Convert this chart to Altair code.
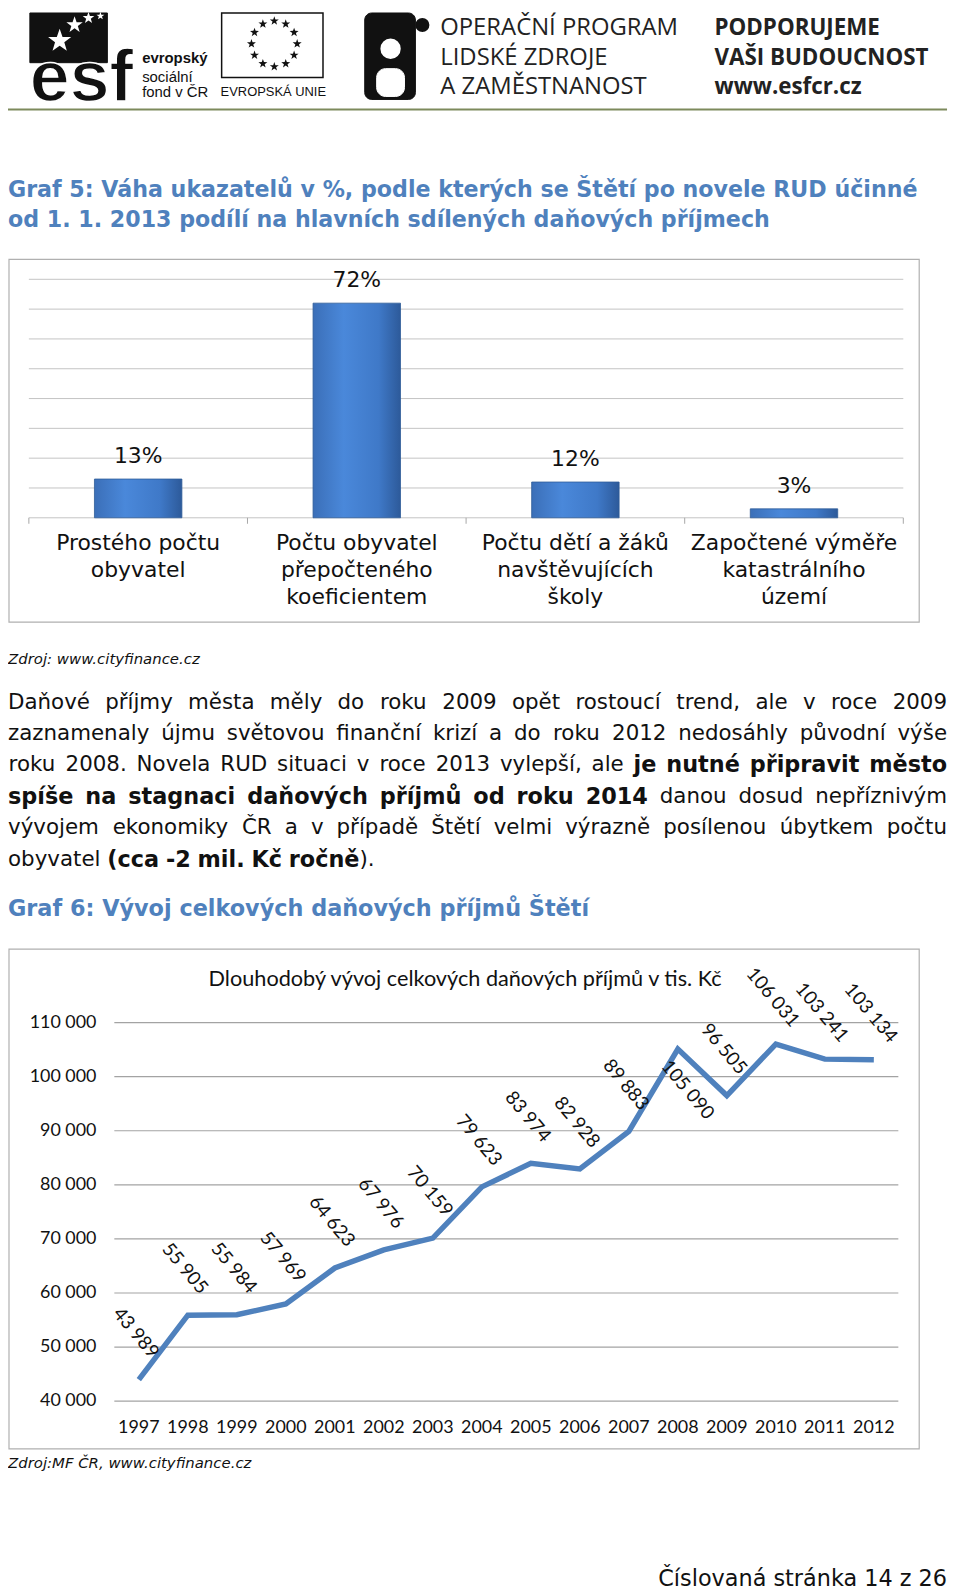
import unicodedata
import altair as alt
import pandas as pd

# ---------------- data ----------------
bar_categories = [
    "Prostého počtu\nobyvatel",
    "Počtu obyvatel\npřepočteného\nkoeficientem",
    "Počtu dětí a žáků\nnavštěvujících\nškoly",
    "Započtené výměře\nkatastrálního\núzemí",
]
bar_values = [13, 72, 12, 3]
bar_grid = [0, 10, 20, 30, 40, 50, 60, 70, 80]

years = ["1997", "1998", "1999", "2000", "2001", "2002", "2003", "2004",
         "2005", "2006", "2007", "2008", "2009", "2010", "2011", "2012"]
income = [43989, 55905, 55984, 57969, 64623, 67976, 70159, 79623,
          83974, 82928, 89883, 105090, 96505, 106031, 103241, 103134]
income_labels = [f"{v:,}".replace(",", " ") for v in income]
y_ticks = [40000, 50000, 60000, 70000, 80000, 90000, 100000, 110000]
y_tick_labels = ["40 000", "50 000", "60 000", "70 000", "80 000", "90 000", "100 000", "110 000"]

# paragraph: list of lines; each line = (justified, [(text, bold), ...])
paragraph = [
    (True, [("Daňové příjmy města měly do roku 2009 opět rostoucí trend, ale v roce 2009", False)]),
    (True, [("zaznamenaly újmu světovou finanční krizí a do roku 2012 nedosáhly původní výše", False)]),
    (True, [("roku 2008. Novela RUD situaci v roce 2013 vylepší, ale", False),
            ("je nutné připravit město", True)]),
    (True, [("spíše na stagnaci daňových příjmů od roku 2014", True),
            ("danou dosud nepříznivým", False)]),
    (True, [("vývojem ekonomiky ČR a v případě Štětí velmi výrazně posílenou úbytkem počtu", False)]),
    (False, [("obyvatel", False), ("(cca -2 mil. Kč ročně", True), ("+).", False)]),
]

BLUE_T = "#4f81bd"
ONE = alt.Data(values=[{"k": 1}])
STAR = ("M0,-1L0.235,-0.324L0.951,-0.309L0.38,0.124L0.588,0.809L0,0.4"
        "L-0.588,0.809L-0.38,0.124L-0.951,-0.309L-0.235,-0.324Z")

# approximate DejaVu Sans advance widths (units of 1/2048 em) for text layout
W_N = {" ": 651, ",": 651, "-": 739, ".": 651, "(": 799, ")": 799, ":": 690,
       "A": 1401, "B": 1405, "C": 1430, "D": 1577, "E": 1294, "K": 1343, "N": 1532,
       "R": 1423, "S": 1300, "U": 1499,
       "a": 1255, "b": 1300, "c": 1126, "d": 1300, "e": 1260, "f": 721, "g": 1300,
       "h": 1298, "i": 569, "j": 569, "k": 1186, "l": 569, "m": 1995, "n": 1298,
       "o": 1253, "p": 1300, "q": 1300, "r": 842, "s": 1067, "t": 803, "u": 1298,
       "v": 1212, "w": 1675, "x": 1212, "y": 1212, "z": 1075}
W_B = {" ": 713, ",": 779, "-": 850, ".": 779, "(": 938, ")": 938, "K": 1588,
       "a": 1382, "b": 1466, "c": 1214, "d": 1466, "e": 1389, "f": 891, "g": 1466,
       "h": 1458, "i": 702, "j": 702, "k": 1362, "l": 702, "m": 2134, "n": 1458,
       "o": 1407, "p": 1466, "q": 1466, "r": 1010, "s": 1219, "t": 979, "u": 1458,
       "v": 1335, "w": 1892, "x": 1321, "y": 1335, "z": 1192}
for d in "0123456789":
    W_N[d] = 1303
    W_B[d] = 1425

FS_N = 21.5
FS_B = 22.5
RIGHT = 945


def text_width(s, bold):
    tbl = W_B if bold else W_N
    size = FS_B if bold else FS_N
    tot = 0
    for c in s:
        b = unicodedata.normalize("NFD", c)[0]
        tot += tbl.get(b, 1250)
    return tot * size / 2048.0


para_y = [694, 726, 757, 789, 820, 852]
rows = []
for (just, segs), yy in zip(paragraph, para_y):
    toks = []
    for s, b in segs:
        glue = s.startswith("+")
        s = s.lstrip("+")
        for j, w in enumerate(s.split(" ")):
            toks.append((w, b, glue and j == 0))
    widths = [text_width(w, b) for w, b, g in toks]
    n_gaps = sum(1 for t in toks[1:] if not t[2])
    if just:
        gap = (RIGHT - sum(widths)) / n_gaps
    else:
        gap = text_width(" ", False)
    x = 0.0
    for k, ((w, b, g), wd) in enumerate(zip(toks, widths)):
        if k > 0 and not g:
            x += gap
        rows.append({"w": w, "x": x + wd / 2.0, "y": yy, "b": b})
        x += wd
para_df = pd.DataFrame(rows)


def txt(s, x, y, size, font="DejaVu Sans", weight="normal", style="normal",
        color="#111111", align="left", baseline="middle", **kw):
    return alt.Chart(ONE).mark_text(
        text=s, font=font, fontSize=size, fontWeight=weight, fontStyle=style,
        color=color, align=align, baseline=baseline, **kw
    ).encode(x=alt.value(x), y=alt.value(y))


def box(x, x2, y, y2, fill, stroke, sw=1.0, r=0):
    return alt.Chart(ONE).mark_rect(
        fill=fill, stroke=stroke, strokeWidth=sw, cornerRadius=r
    ).encode(x=alt.value(x), x2=alt.value(x2), y=alt.value(y), y2=alt.value(y2))


def hrule(x, x2, y, color, sw=1.0):
    return alt.Chart(ONE).mark_rule(color=color, strokeWidth=sw).encode(
        x=alt.value(x), x2=alt.value(x2), y=alt.value(y))


def dot(x, y, size, color, shape="circle"):
    return alt.Chart(ONE).mark_point(filled=True, shape=shape, size=size,
                                     color=color, opacity=1, strokeWidth=0).encode(
        x=alt.value(x), y=alt.value(y))


# ---------------- header ----------------
deco = []
deco.append(box(22, 100, 0, 50, "#111111", "#111111"))
deco.append(txt("esf", 22, 89, 72, font="Liberation Sans", weight="bold",
                color="#111111", baseline="alphabetic", stroke="white", strokeWidth=1.5))
deco.append(dot(52, 28, 600, "white", STAR))
deco.append(dot(67, 12, 300, "white", STAR))
deco.append(dot(81, 5, 150, "white", STAR))
deco.append(dot(93, 3, 70, "white", STAR))
deco.append(txt("evropský", 135, 45, 15, font="Liberation Sans", weight="bold"))
deco.append(txt("sociální", 135, 64, 15, font="Liberation Sans"))
deco.append(txt("fond v ČR", 135, 80, 15, font="Liberation Sans"))
deco.append(box(215, 317, 0, 65, "white", "#111111", 1.5))
eu_stars = alt.Chart(alt.Data(values=[{"i": i} for i in range(12)])).transform_calculate(
    sx="268 + 23*sin(datum.i*PI/6)", sy="31 - 23*cos(datum.i*PI/6)"
).mark_point(shape=STAR, size=90, filled=True, color="#111111", opacity=1,
             strokeWidth=0).encode(
    x=alt.X("sx:Q", scale=None, axis=None), y=alt.Y("sy:Q", scale=None, axis=None))
deco.append(eu_stars)
deco.append(txt("EVROPSKÁ UNIE", 267, 80, 13, font="Liberation Sans", align="center"))
# puzzle icon
deco.append(box(359, 410, 0, 87, "#111111", "#111111", 1, 7))
deco.append(dot(417, 12, 200, "#111111"))
deco.append(dot(385, 36, 420, "white"))
deco.append(box(371, 399, 56, 84, "white", "white", 1, 9))
deco.append(txt("OPERAČNÍ PROGRAM", 435, 15, 24, font="Open Sans", color="#222222"))
deco.append(txt("LIDSKÉ ZDROJE", 435, 45, 24, font="Open Sans", color="#222222"))
deco.append(txt("A ZAMĚSTNANOST", 435, 75, 24, font="Open Sans", color="#222222"))
deco.append(txt("PODPORUJEME", 711, 15, 22.5, font="Open Sans", weight="bold", color="#222222"))
deco.append(txt("VAŠI BUDOUCNOST", 711, 45, 22.5, font="Open Sans", weight="bold", color="#222222"))
deco.append(txt("www.esfcr.cz", 711, 75, 22.5, font="Open Sans", weight="bold", color="#222222"))
deco.append(hrule(0, 945, 97, "#7d8a5c", 2))

# ---------------- titles and text ----------------
deco.append(txt("Graf 5: Váha ukazatelů v %, podle kterých se Štětí po novele RUD účinné",
                0, 178, 22.3, weight="bold", color=BLUE_T))
deco.append(txt("od 1. 1. 2013 podílí na hlavních sdílených daňových příjmech",
                0, 208, 22.3, weight="bold", color=BLUE_T))
deco.append(txt("Zdroj: www.cityfinance.cz", 0, 650, 15, style="italic"))

para_norm = alt.Chart(para_df).transform_filter("!datum.b").mark_text(
    font="DejaVu Sans", fontSize=FS_N, color="#111111", align="center", baseline="middle"
).encode(x=alt.X("x:Q", scale=None, axis=None), y=alt.Y("y:Q", scale=None, axis=None),
         text="w:N")
para_bold = alt.Chart(para_df).transform_filter("datum.b").mark_text(
    font="DejaVu Sans", fontSize=FS_B, fontWeight="bold", color="#111111",
    align="center", baseline="middle"
).encode(x=alt.X("x:Q", scale=None, axis=None), y=alt.Y("y:Q", scale=None, axis=None),
         text="w:N")
deco.append(para_norm)
deco.append(para_bold)

deco.append(txt("Graf 6: Vývoj celkových daňových příjmů Štětí", 0, 902, 22.5,
                weight="bold", color=BLUE_T))
deco.append(txt("Zdroj:MF ČR, www.cityfinance.cz", 0, 1459, 15, style="italic"))
deco.append(txt("Číslovaná stránka 14 z 26", 945, 1576, 22.5, align="right"))

# chart frames
deco.append(box(1, 917, 248, 613, "white", "#b0b0b0", 1.2))
deco.append(box(1, 917, 942, 1445, "white", "#b0b0b0", 1.2))

# ---------------- bar chart (Graf 5) ----------------
bar_df = pd.DataFrame({"cat": bar_categories, "val": bar_values})
bxs = alt.Scale(domain=bar_categories, range=[21, 901], paddingInner=0.6, paddingOuter=0.3)
bys = alt.Scale(domain=[0, 80], range=[508, 268], nice=False, zero=True)

bar_gridlines = alt.Chart(pd.DataFrame({"t": bar_grid})).mark_rule(
    color="#c4c4c4", strokeWidth=1).encode(
    y=alt.Y("t:Q", scale=bys, axis=None), x=alt.value(21), x2=alt.value(901))

bar_ticks = alt.Chart(bar_df).mark_rule(color="#a6a6a6", xOffset=-110).encode(
    x=alt.X("cat:N", scale=bxs, axis=None, sort=None), y=alt.value(508), y2=alt.value(514))
bar_tick_last = alt.Chart(bar_df).transform_filter(
    alt.datum.val == bar_values[-1]).mark_rule(color="#a6a6a6", xOffset=110).encode(
    x=alt.X("cat:N", scale=bxs, axis=None, sort=None), y=alt.value(508), y2=alt.value(514))

grad = alt.LinearGradient(
    gradient="linear", x1=0, x2=1, y1=0, y2=0,
    stops=[alt.GradientStop(color="#3b6fb8", offset=0),
           alt.GradientStop(color="#4a88da", offset=0.35),
           alt.GradientStop(color="#3f79c8", offset=0.75),
           alt.GradientStop(color="#2d5a9a", offset=1)])
bars = alt.Chart(bar_df).mark_bar(color=grad, stroke="#2f5c97", strokeWidth=0.8).encode(
    x=alt.X("cat:N", scale=bxs, axis=None, sort=None),
    y=alt.Y("val:Q", scale=bys, axis=None))

bar_vals = alt.Chart(bar_df).transform_calculate(
    lab="datum.val + '%'").mark_text(
    font="DejaVu Sans", fontSize=22, color="#111111", dy=-23, baseline="middle").encode(
    x=alt.X("cat:N", scale=bxs, axis=None, sort=None),
    y=alt.Y("val:Q", scale=bys, axis=None), text="lab:N")

bar_cats = alt.Chart(bar_df).mark_text(
    font="DejaVu Sans", fontSize=22, color="#111111", lineBreak="\n",
    lineHeight=27.5, baseline="top", align="center").encode(
    x=alt.X("cat:N", scale=bxs, axis=None, sort=None), y=alt.value(523), text="cat:N")

bar_layer = alt.layer(bar_gridlines, bar_ticks, bar_tick_last, bars, bar_vals, bar_cats)

# ---------------- line chart (Graf 6) ----------------
line_df = pd.DataFrame({"year": years, "inc": income, "lab": income_labels})
tick_df = pd.DataFrame({"t": y_ticks, "tl": y_tick_labels})
lxs = alt.Scale(type="point", domain=years, range=[107, 896], padding=0.5)
lys = alt.Scale(domain=[40000, 110000], range=[1397, 1016], nice=False, zero=False)

l_grid = alt.Chart(tick_df).mark_rule(color="#a3a3a3", strokeWidth=1.2).encode(
    y=alt.Y("t:Q", scale=lys, axis=None), x=alt.value(107), x2=alt.value(896))
l_ylabels = alt.Chart(tick_df).mark_text(
    font="Lato", fontSize=18, color="#111111", align="right", baseline="middle").encode(
    y=alt.Y("t:Q", scale=lys, axis=None), x=alt.value(89), text="tl:N")
l_xlabels = alt.Chart(line_df).mark_text(
    font="Lato", fontSize=18, color="#111111", align="center", baseline="middle").encode(
    x=alt.X("year:O", scale=lxs, axis=None, sort=None), y=alt.value(1424), text="year:N")
l_line = alt.Chart(line_df).mark_line(color="#4f81bd", strokeWidth=5.5).encode(
    x=alt.X("year:O", scale=lxs, axis=None, sort=None),
    y=alt.Y("inc:Q", scale=lys, axis=None))
l_labels = alt.Chart(line_df).transform_filter("datum.year != '2008'").mark_text(
    font="Lato", fontSize=19, color="#111111", angle=50, align="center",
    baseline="middle", xOffset=-3, yOffset=-47).encode(
    x=alt.X("year:O", scale=lxs, axis=None, sort=None),
    y=alt.Y("inc:Q", scale=lys, axis=None), text="lab:N")
l_label08 = alt.Chart(line_df).transform_filter("datum.year == '2008'").mark_text(
    font="Lato", fontSize=19, color="#111111", angle=50, align="center",
    baseline="middle", xOffset=10, yOffset=41).encode(
    x=alt.X("year:O", scale=lxs, axis=None, sort=None),
    y=alt.Y("inc:Q", scale=lys, axis=None), text="lab:N")
l_title = txt("Dlouhodobý vývoj celkových daňových příjmů v tis. Kč", 460, 972, 21.8,
              font="Lato", align="center")

line_layer = alt.layer(l_grid, l_ylabels, l_xlabels, l_line, l_labels, l_label08, l_title)

chart = alt.layer(*deco, bar_layer, line_layer).resolve_scale(
    x="independent", y="independent"
).properties(
    width=950, height=1583, padding=0,
    autosize=alt.AutoSizeParams(type="none"),
    background="white",
).configure_view(strokeWidth=0)

chart.save("out.html", embed_options={"renderer": "svg", "actions": False})
